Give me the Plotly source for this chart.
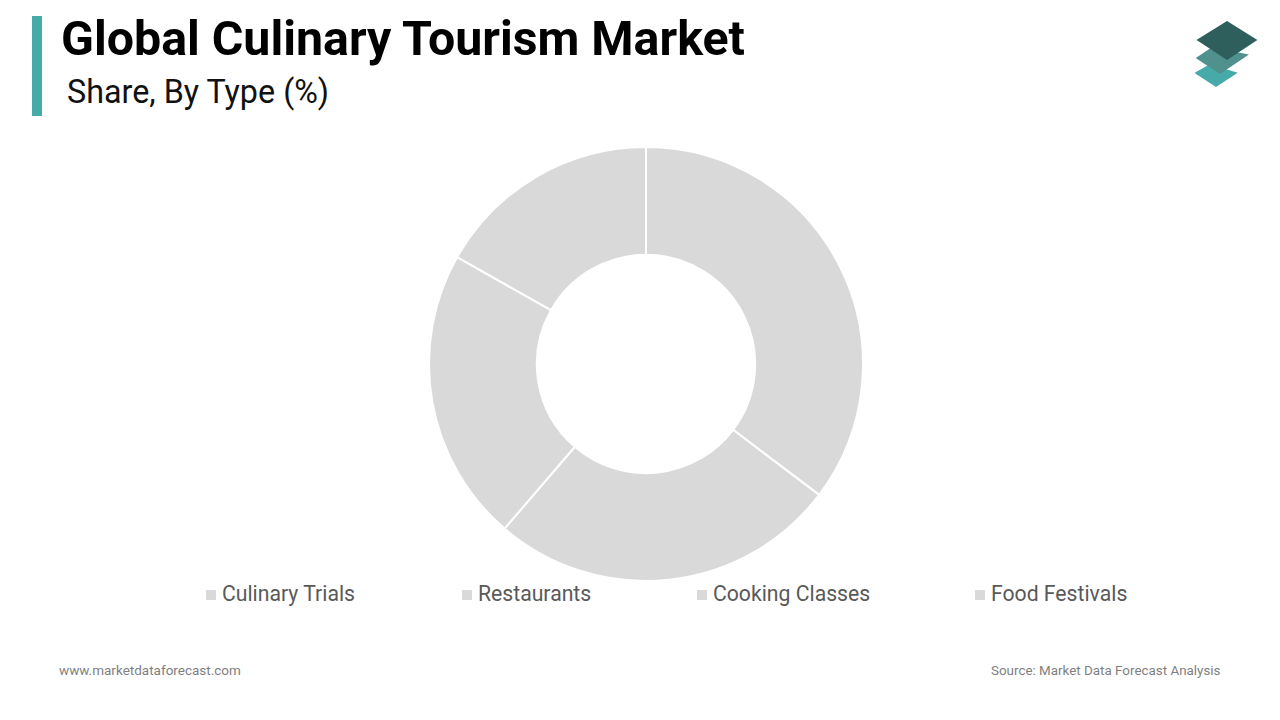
import plotly.graph_objects as go

W, H = 1280, 720

categories = ["Culinary Trials", "Restaurants", "Cooking Classes", "Food Festivals"]
shares = [35.3, 26.0, 21.9, 16.8]

legend_x = [206, 462, 697, 975]

title_text = "Global Culinary Tourism Market"
subtitle_text = "Share, By Type (%)"
footer_left = "www.marketdataforecast.com"
footer_right = "Source: Market Data Forecast Analysis"

TEAL = "#46ABA8"
GREY = "#D9D9D9"


def fx(x):
    return x / W


def fy(y):
    return 1 - y / H


def diamond(points, color):
    path = "M " + " L ".join(f"{fx(x):.5f},{fy(y):.5f}" for x, y in points) + " Z"
    return dict(type="path", xref="paper", yref="paper", path=path,
                fillcolor=color, line=dict(color=color, width=1.5), layer="above")


def label(x, y, text, size, color, bold=False, anchor="left"):
    return dict(x=fx(x), y=fy(y), xref="paper", yref="paper", text=f"<b>{text}</b>" if bold else text,
                showarrow=False, xanchor=anchor, yanchor="middle",
                font=dict(family="Roboto", size=size, color=color))


fig = go.Figure(
    go.Pie(
        labels=categories,
        values=shares,
        hole=0.503,
        sort=False,
        direction="clockwise",
        rotation=0,
        textinfo="none",
        marker=dict(colors=[GREY] * len(categories), line=dict(color="white", width=2)),
        domain=dict(x=[fx(429), fx(863)], y=[fy(581), fy(147)]),
        showlegend=False,
    )
)

shapes = [
    dict(type="rect", xref="paper", yref="paper", x0=fx(32), x1=fx(42), y0=fy(116), y1=fy(16),
         fillcolor=TEAL, line_width=0),
    diamond([(1196, 73), (1210, 65), (1236, 73), (1216, 86)], TEAL),
    diamond([(1197, 58), (1212, 48), (1247, 55), (1220, 73)], "#50908D"),
    diamond([(1198, 40), (1227, 22), (1256, 40), (1227, 59)], "#2F5F5D"),
]
annotations = [
    label(59, 38, title_text, 48.3, "#000000", bold=True),
    label(65, 92, subtitle_text, 32.3, "#111111"),
    label(57, 670, footer_left, 13.5, "#7F7F7F"),
    label(1223, 670, footer_right, 13.4, "#7F7F7F", anchor="right"),
]
for x, name in zip(legend_x, categories):
    shapes.append(dict(type="rect", xref="paper", yref="paper", x0=fx(x), x1=fx(x + 10),
                       y0=fy(600), y1=fy(590), fillcolor=GREY, line_width=0))
    annotations.append(label(x + 14, 593, name, 21.2, "#595959"))

fig.update_layout(
    width=W,
    height=H,
    margin=dict(l=0, r=0, t=0, b=0),
    paper_bgcolor="white",
    plot_bgcolor="white",
    font_family="Roboto",
    shapes=shapes,
    annotations=annotations,
)
# browser default body margin would push the figure 8px off
fig.write_html("out.html", config={"displayModeBar": False},
               post_script="document.body.style.margin = '0';")
